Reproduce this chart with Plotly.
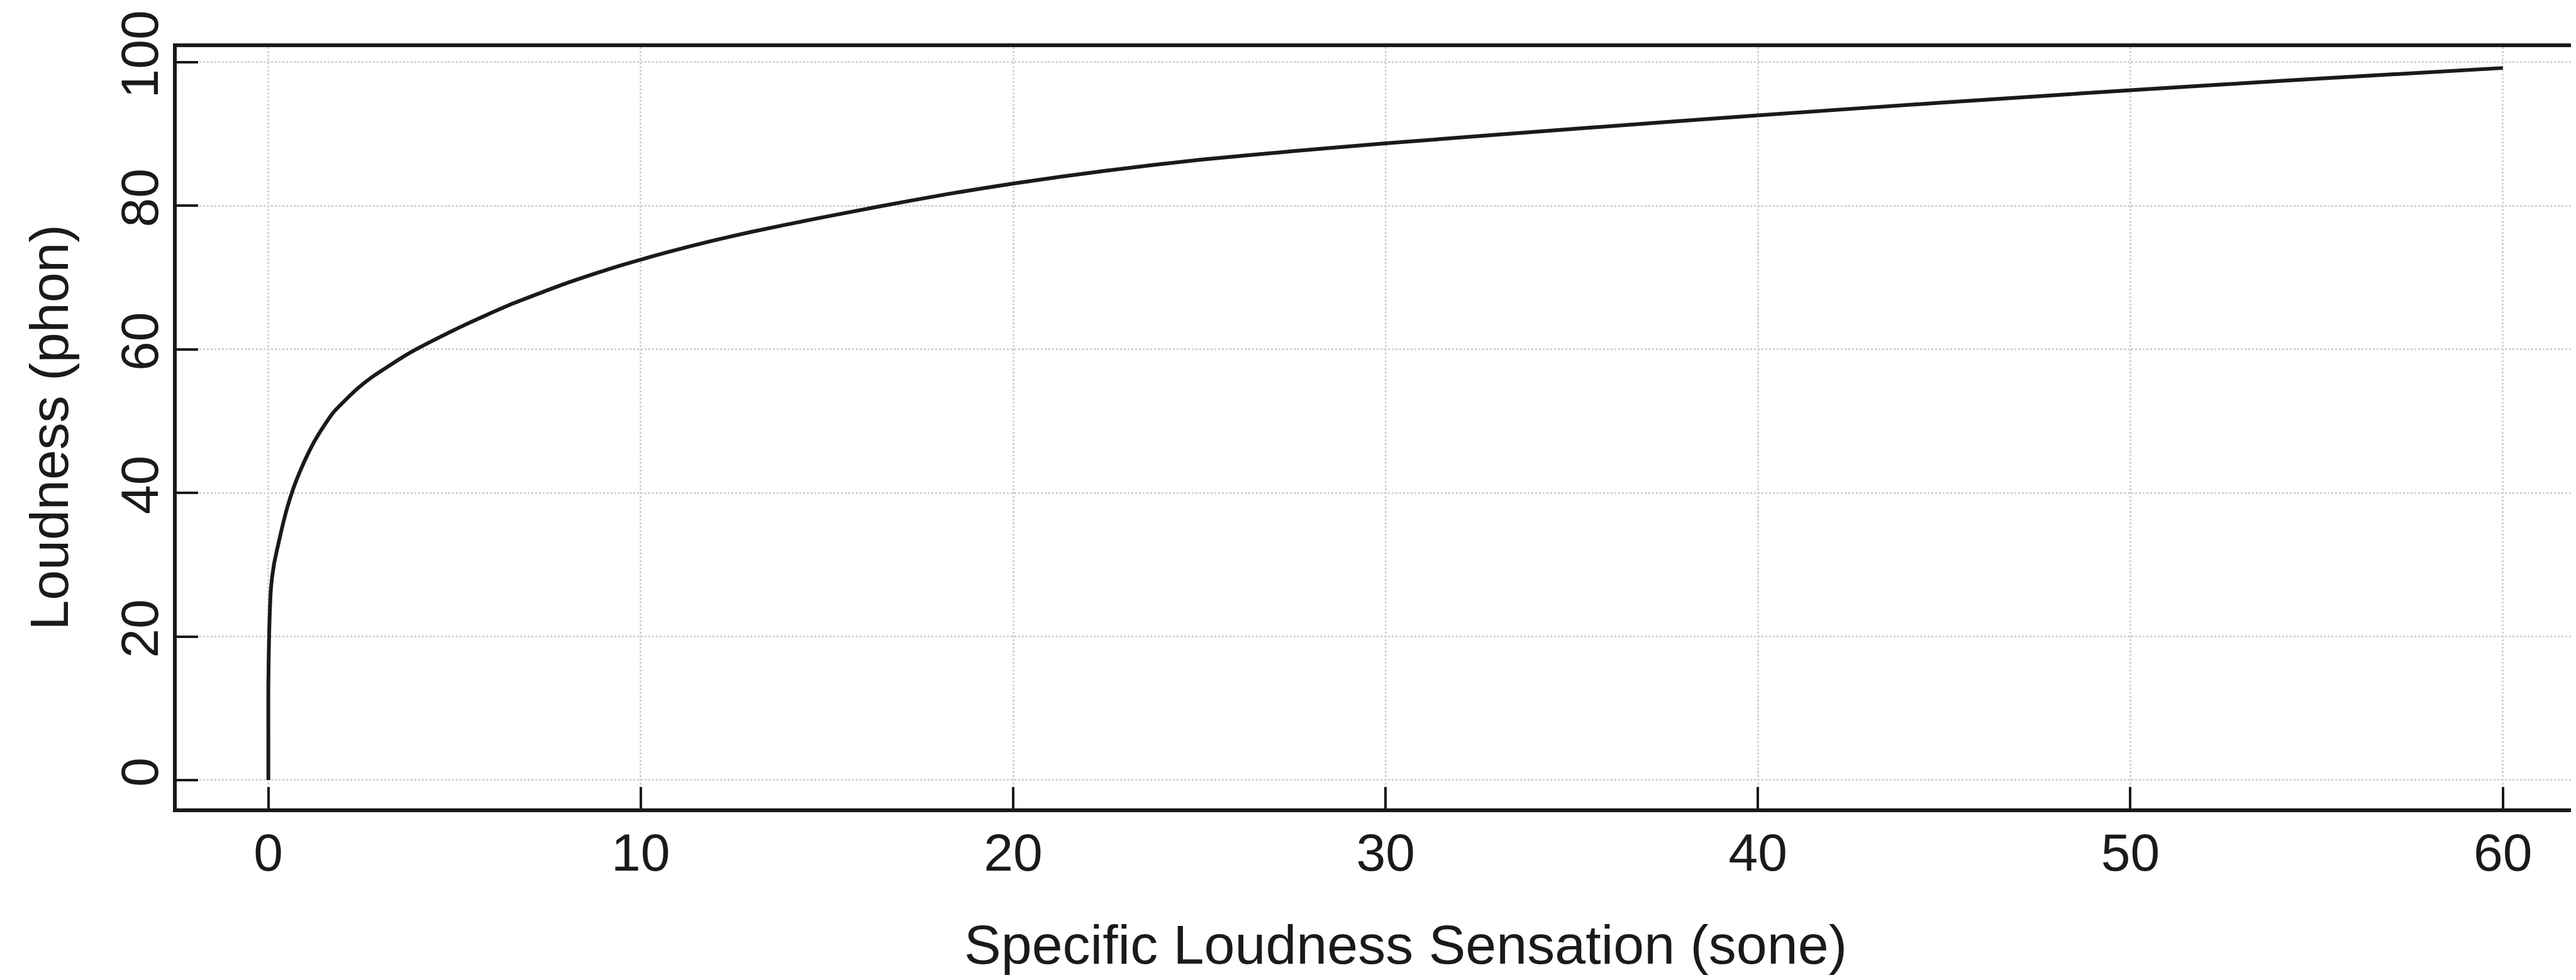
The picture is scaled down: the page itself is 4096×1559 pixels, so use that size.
import plotly.graph_objects as go

# Values
sone = [0, 0, 0, 0.02, 0.07, 0.15, 0.26, 0.38, 0.51, 0.67, 0.85, 1.05, 1.25, 1.5,
        1.76, 2.1, 2.43, 2.8, 3.24, 3.6, 4.04, 4.6, 5.15, 5.8, 6.6, 7.3, 8.0, 8.8,
        9.4, 10, 10.8, 11.9, 13, 14.7, 16.4, 18.2, 20, 22.5, 25, 27.5, 30, 35,
        40, 45, 50, 55, 60]
phon = [0, 6, 13, 20, 26.7, 30, 32.7, 35.4, 38, 40.6, 43, 45.3, 47.3, 49.4,
        51.3, 53.1, 54.7, 56.2, 57.7, 58.9, 60.2, 61.7, 63.1, 64.65, 66.45, 67.85, 69.2, 70.6,
        71.6, 72.5, 73.65, 75.1, 76.4, 78.2, 79.9, 81.6, 83.1, 84.9, 86.4, 87.6, 88.7, 90.7,
        92.6, 94.4, 96.1, 97.7, 99.2]

x_ticks = [0, 10, 20, 30, 40, 50, 60]
y_ticks = [0, 20, 40, 60, 80, 100]
x_title = "Specific Loudness Sensation (sone)"
y_title = "Loudness (phon)"

W, H = 4096, 1559
S = 0.986
L = round(277 * S)
T = round(68 * S)
B = H - round(1296 * S)
plot_w = W - L
plot_h = H - T - B

INK = "#1a1a1a"
FONT = "Liberation Sans, Arial, Helvetica, sans-serif"

fig = go.Figure(
    go.Scatter(x=sone, y=phon, mode="lines",
               line=dict(color=INK, width=6, shape="spline", smoothing=0.6),
               showlegend=False, hoverinfo="skip")
)

fig.update_layout(
    width=W, height=H,
    margin=dict(l=L, r=0, t=T, b=B, pad=0),
    paper_bgcolor="white", plot_bgcolor="white",
    font=dict(family=FONT, color=INK, size=84),
)

fig.update_xaxes(
    range=[-2.46, 62.1], tickvals=x_ticks, ticktext=[str(v) for v in x_ticks],
    ticks="inside", ticklen=34, tickwidth=4, tickcolor=INK,
    showline=True, linewidth=6, linecolor=INK, mirror=True,
    showgrid=True, gridcolor="#d2d2d2", gridwidth=3, griddash="dot",
    zeroline=False, tickfont=dict(family=FONT, size=84, color=INK),
    ticklabelstandoff=-8,
)
fig.update_yaxes(
    range=[-3.95, 102.1], tickvals=y_ticks, ticktext=[str(v) for v in y_ticks],
    ticks="inside", ticklen=34, tickwidth=4, tickcolor=INK,
    showline=True, linewidth=6, linecolor=INK, mirror=False,
    showgrid=True, gridcolor="#d2d2d2", gridwidth=3, griddash="dot",
    zeroline=False, tickangle=-90, tickfont=dict(family=FONT, size=84, color=INK),
    ticklabelstandoff=-10,
)

fig.add_annotation(
    text=x_title, xref="x", yref="paper", x=30.54, y=(H - B - 1516 * S) / plot_h,
    xanchor="center", yanchor="middle", showarrow=False,
    font=dict(family=FONT, size=88, color=INK),
)
fig.add_annotation(
    text=y_title, xref="paper", yref="paper", x=(70 * S - L) / plot_w, y=0.5,
    xanchor="center", yanchor="middle", textangle=-90, showarrow=False,
    font=dict(family=FONT, size=86, color=INK),
)

fig.write_html("out.html")
